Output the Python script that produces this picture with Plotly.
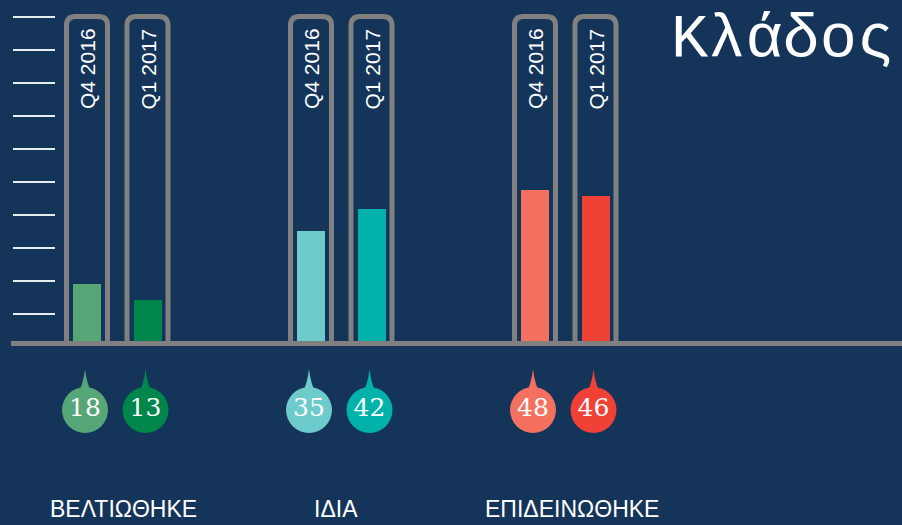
import numpy as np
import plotly.graph_objects as go

# ---- data ----
groups = ["ΒΕΛΤΙΩΘΗΚΕ", "ΙΔΙΑ", "ΕΠΙΔΕΙΝΩΘΗΚΕ"]
periods = ["Q4 2016", "Q1 2017"]
values_q4 = [18, 35, 48]
values_q1 = [13, 42, 46]
colors_q4 = ["#57a677", "#6ecbcb", "#f4715f"]
colors_q1 = ["#00854a", "#00b2a9", "#ef4136"]
title_text = "Κλάδος"

# ---- style / geometry ----
W, H = 902, 525
BG = "#143459"
GRAY = "#808080"
PX_X = 1 / 224.0          # x units per pixel
PX_Y = 1 / 3.15           # y units per pixel
BASE_PX = 341             # pixel row of value 0
G0_PX = 117.25            # pixel column of first group centre
x_range = [-G0_PX * PX_X, (W - G0_PX) * PX_X]
y_range = [-(H - BASE_PX) * PX_Y, BASE_PX * PX_Y]
LABEL_SHIFT_PX = [6.5, -5, 7]

def ypx(p):  # pixel row -> y value
    return (BASE_PX - p) * PX_Y

OFF = 30.25 * PX_X
BAR_W = 28 * PX_X
FRAME_HW = 20.5 * PX_X
FRAME_TOP = ypx(16.5)
RX, RY = 9 * PX_X, 9 * PX_Y

series = [(periods[0], values_q4, colors_q4, -OFF), (periods[1], values_q1, colors_q1, OFF)]

fig = go.Figure()
shapes = []
annotations = []

for name, vals, cols, off in series:
    xs = [g + off for g in range(len(groups))]
    fig.add_trace(go.Bar(x=xs, y=vals, width=BAR_W, marker=dict(color=cols, line=dict(width=0)),
                         name=name, showlegend=False, hoverinfo="y"))
    for x, v, c in zip(xs, vals, cols):
        xl, xr = x - FRAME_HW, x + FRAME_HW
        path = (f"M {xl},{-0.5} L {xl},{FRAME_TOP - RY} Q {xl},{FRAME_TOP} {xl + RX},{FRAME_TOP} "
                f"L {xr - RX},{FRAME_TOP} Q {xr},{FRAME_TOP} {xr},{FRAME_TOP - RY} L {xr},{-0.5}")
        shapes.append(dict(type="path", path=path, xref="x", yref="y",
                           line=dict(color=GRAY, width=5), layer="above"))
        annotations.append(dict(x=x, y=ypx(69), xref="x", yref="y", text=name, textangle=-90,
                                showarrow=False, font=dict(family="Liberation Sans, Arial", size=21, color="white")))
        # bubble spike
        bx = x - 2 * PX_X
        tip, base = ypx(369), ypx(396)
        mid = ypx(384)
        sp = (f"M {bx},{tip} Q {bx + 1.5 * PX_X},{mid} {bx + 8 * PX_X},{base} "
              f"L {bx - 8 * PX_X},{base} Q {bx - 1.5 * PX_X},{mid} {bx},{tip} Z")
        shapes.append(dict(type="path", path=sp, xref="x", yref="y", fillcolor=c,
                           line=dict(width=0), layer="above"))
    fig.add_trace(go.Scatter(x=[x - 2 * PX_X for x in xs], y=[ypx(410)] * len(xs), mode="markers+text",
                             marker=dict(size=46, color=cols, line=dict(width=0)),
                             text=[str(v) for v in vals], textposition="middle center",
                             textfont=dict(family="DejaVu Serif", size=25, color="white"),
                             showlegend=False, hoverinfo="skip"))

# baseline
shapes.append(dict(type="line", xref="paper", yref="y", x0=11 / W, x1=1, y0=-2.5 * PX_Y, y1=-2.5 * PX_Y,
                   line=dict(color=GRAY, width=5), layer="above"))

# group labels
for i, g in enumerate(groups):
    annotations.append(dict(x=i + LABEL_SHIFT_PX[i] * PX_X, y=ypx(509), xref="x", yref="y", text=g,
                            showarrow=False,
                            font=dict(family="Liberation Sans, Arial", size=23, color="white")))

# title
annotations.append(dict(x=(W - 6) / W, y=1 - 2 / H, xref="paper", yref="paper", xanchor="right", yanchor="top",
                        text=title_text, showarrow=False,
                        font=dict(family="Liberation Mono, DejaVu Sans Mono", size=62, color="white")))

tick_levels = list(ypx(314) + np.arange(10) * 33 * PX_Y)

fig.update_layout(
    width=W, height=H, margin=dict(l=0, r=0, t=0, b=0),
    paper_bgcolor=BG, plot_bgcolor=BG,
    xaxis=dict(range=x_range, visible=False, domain=[0, 1]),
    yaxis=dict(range=y_range, showgrid=False, zeroline=False, showline=False, showticklabels=False,
               tickmode="array", tickvals=tick_levels, ticks="outside", ticklen=42, tickwidth=2,
               tickcolor="#e6edf3", anchor="free", position=55 / W, side="left"),
    shapes=shapes, annotations=annotations, bargap=0,
)

fig.write_html("out.html", config={"displayModeBar": False},
               post_script="document.body.style.margin='0';document.body.style.background='%s';" % BG)
